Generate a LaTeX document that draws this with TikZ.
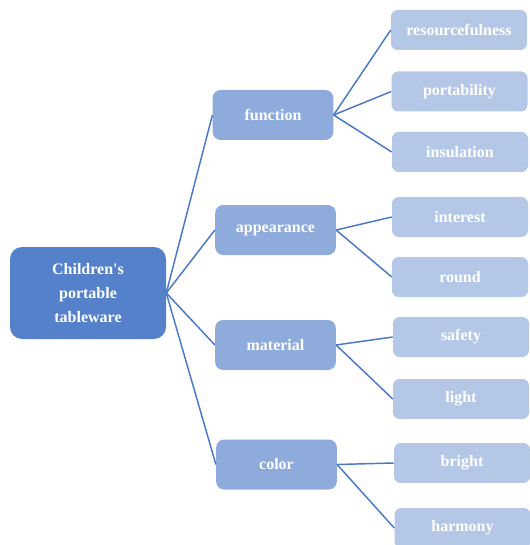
\documentclass[tikz,border=0pt]{standalone}
\usepackage{fontspec}
\setmainfont{Liberation Serif}[Ligatures=TeXOff]
\definecolor{rootc}{HTML}{5581CA}
\definecolor{midc}{HTML}{8FABDC}
\definecolor{leafc}{HTML}{B4C7E7}
\definecolor{linec}{HTML}{4A78C8}
\tikzset{
  base/.style={draw=none, text=white, font=\bfseries\fontsize{12pt}{18pt}\selectfont, align=center, inner sep=0pt},
  rootbox/.style={base, fill=rootc, minimum width=117pt, minimum height=69pt, rounded corners=9pt},
  midbox/.style={base, fill=midc, minimum width=90.5pt, minimum height=37.5pt, rounded corners=6pt},
  leafbox/.style={base, fill=leafc, minimum width=102pt, minimum height=30pt, rounded corners=5pt},
  conn/.style={draw=linec, line width=1.1pt}
}
\begin{document}
\begin{tikzpicture}[x=0.75pt,y=-0.75pt]
\useasboundingbox (0,0) rectangle (530,545);
\node[rootbox] (root) at (88,293) {Children's\\portable\\tableware};
\node[midbox] (function) at (273,115) {function};
\node[midbox] (appearance) at (275.5,230) {appearance};
\node[midbox] (material) at (275.5,345) {material};
\node[midbox] (color) at (276.5,464.5) {color};
\node[leafbox] (resourcefulness) at (459,30) {resourcefulness};
\node[leafbox] (portability) at (459.5,91.5) {portability};
\node[leafbox] (insulation) at (460,152) {insulation};
\node[leafbox] (interest) at (460,217) {interest};
\node[leafbox] (round) at (460,277) {round};
\node[leafbox] (safety) at (461,337) {safety};
\node[leafbox] (light) at (461,399) {light};
\node[leafbox] (bright) at (462,463) {bright};
\node[leafbox] (harmony) at (462.5,528) {harmony};
\foreach \m in {function,appearance,material,color}
  \draw[conn] (root.east) -- (\m.west);
\draw[conn] (function.east) -- (resourcefulness.west);
\draw[conn] (function.east) -- (portability.west);
\draw[conn] (function.east) -- (insulation.west);
\draw[conn] (appearance.east) -- (interest.west);
\draw[conn] (appearance.east) -- (round.west);
\draw[conn] (material.east) -- (safety.west);
\draw[conn] (material.east) -- (light.west);
\draw[conn] (color.east) -- (bright.west);
\draw[conn] (color.east) -- (harmony.west);
\end{tikzpicture}
\end{document}
